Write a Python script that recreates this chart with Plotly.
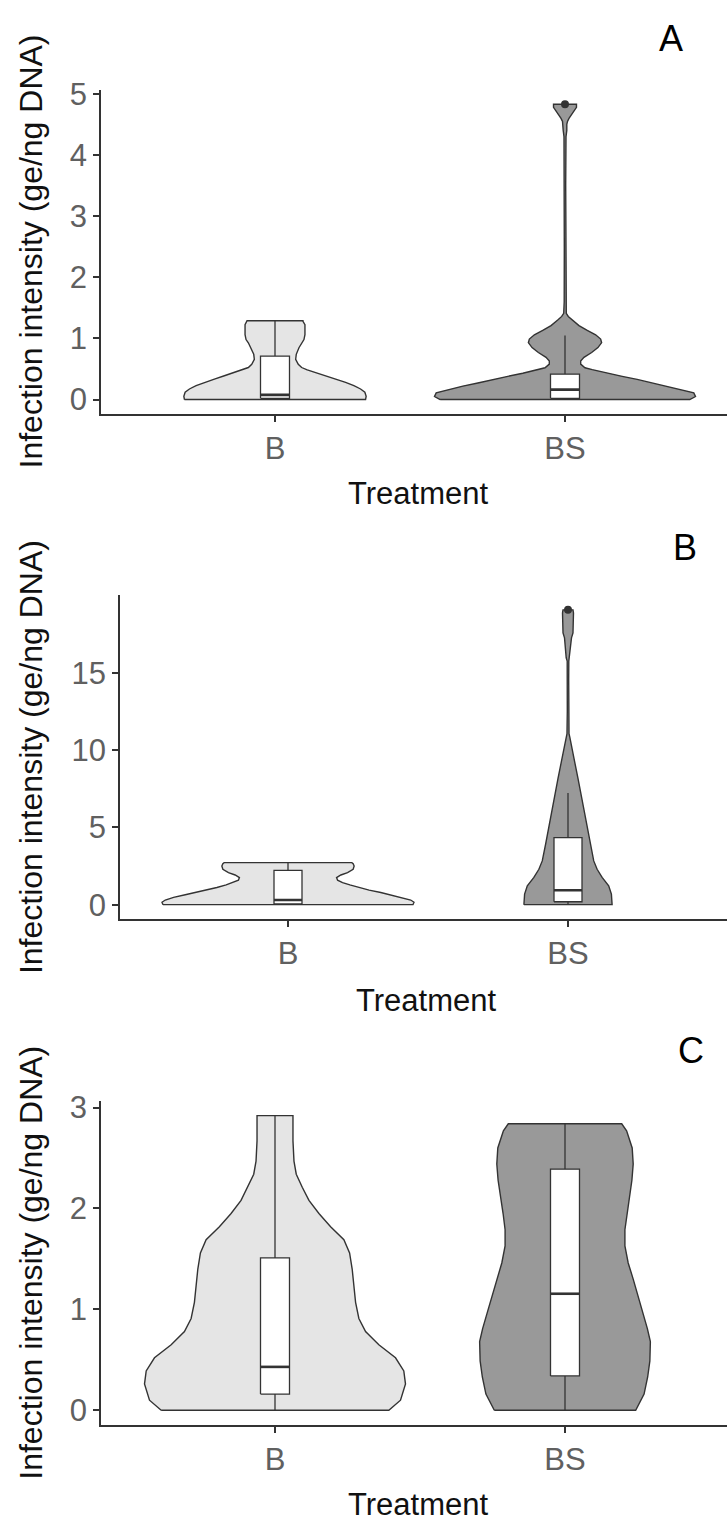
import plotly.graph_objects as go

W, H = 727, 1522

# ---------------- data ----------------
categories = ["B", "BS"]
panel_labels = ["A", "B", "C"]
y_title = "Infection intensity (ge/ng DNA)"
x_title = "Treatment"

# Panel A -------------------------------------------------------------
a_yticks = [0, 1, 2, 3, 4, 5]
a_b_y = [0, 0.055, 0.12, 0.173, 0.227, 0.281, 0.335, 0.389, 0.443, 0.486, 0.524,
         0.578, 0.659, 0.740, 0.848, 0.928, 0.982, 1.063, 1.225, 1.279, 1.29]
a_b_density = [90.7, 91.3, 90, 85.7, 79, 70.7, 60.7, 50.7, 40.7, 32.3, 26.7,
               23.3, 20.7, 21.3, 24, 26.7, 29, 30, 30, 28, 28]
a_bs_y = [0, 0.05, 0.11, 0.16, 0.22, 0.27, 0.33, 0.38, 0.43, 0.49, 0.52, 0.58, 0.63,
          0.69, 0.77, 0.85, 0.93, 0.99, 1.06, 1.13, 1.21, 1.30, 1.36, 1.41, 1.6, 2.5,
          3.5, 4.3, 4.4, 4.5, 4.55, 4.6, 4.7, 4.78, 4.83]
a_bs_density = [125, 130.7, 129, 117.3, 102.3, 87.3, 72.3, 57.3, 42.3, 27.3, 20, 15.7,
                15.7, 19, 26.7, 33, 36.7, 35.7, 30.7, 22.3, 14, 7.3, 3.3, 1.3, 0.8, 0.7,
                0.7, 1.0, 1.8, 1.8, 2.5, 4, 8, 11.5, 11.5]
a_q1 = [0.02, 0.02]
a_median = [0.076, 0.162]
a_q3 = [0.71, 0.416]
a_lower = [0, 0]
a_upper = [1.29, 1.047]
a_out_x = ["BS"]
a_out_y = [4.83]

# Panel B -------------------------------------------------------------
b_yticks = [0, 5, 10, 15]
b_b_y = [0, 0.16, 0.30, 0.47, 0.64, 0.79, 0.94, 1.11, 1.28, 1.43, 1.58, 1.75, 1.92,
         2.07, 2.29, 2.50, 2.65, 2.72]
b_b_density = [125.3, 126.3, 123, 114.7, 103, 93, 81.3, 71.3, 62, 54.7, 49.7, 48.7, 53,
               59.7, 65.3, 66.3, 65.3, 64]
b_bs_y = [0, 0.68, 1.22, 1.76, 2.29, 2.83, 3.89, 4.96, 6.03, 7.10, 8.17, 9.23, 10.30,
          10.83, 11.05, 12.5, 14.5, 15.75, 15.96, 16.71, 17.25, 17.57, 18.21, 18.85, 19.06]
b_bs_density = [44.2, 43.5, 40.8, 34.2, 29.2, 25.8, 22.5, 19.5, 16.2, 13.3, 10, 6.7, 3.2,
                1.8, 1.0, 0.7, 0.7, 0.8, 1.8, 2.8, 3.5, 5, 5.5, 5.5, 5]
b_q1 = [0.05, 0.19]
b_median = [0.3, 0.93]
b_q3 = [2.22, 4.34]
b_lower = [0, 0]
b_upper = [2.72, 7.22]
b_out_x = ["BS"]
b_out_y = [19.06]

# Panel C -------------------------------------------------------------
c_yticks = [0, 1, 2, 3]
c_b_y = [0, 0.10, 0.26, 0.39, 0.52, 0.65, 0.78, 0.91, 1.07, 1.24, 1.40, 1.56, 1.69,
         1.82, 1.95, 2.08, 2.21, 2.34, 2.47, 2.67, 2.86, 2.92]
c_b_density = [114, 125.7, 130.7, 129, 120.7, 104, 90.7, 84, 80.7, 79, 77.3, 74.7, 69,
               55.7, 44, 34, 27.3, 21.3, 19, 18, 18, 18]
c_bs_y = [0, 0.16, 0.33, 0.49, 0.68, 0.81, 0.98, 1.14, 1.30, 1.46, 1.63, 1.79, 1.95,
          2.12, 2.28, 2.44, 2.60, 2.77, 2.84]
c_bs_density = [70.8, 79.2, 82.8, 85, 85.5, 82.5, 77.5, 73, 68.3, 63.3, 60, 60, 62,
                 64.7, 67, 68.3, 67.3, 61.7, 56.8]
c_q1 = [0.16, 0.34]
c_median = [0.43, 1.155]
c_q3 = [1.51, 2.39]
c_lower = [0, 0]
c_upper = [2.92, 2.84]
c_out_x = []
c_out_y = []

# ---------------- styling / layout ----------------
FONT = "Liberation Sans, Arial, sans-serif"
LINE = "#333333"
FILLS = {"B": "#E5E5E5", "BS": "#999999"}
TICK_COLOR = "#606060"
VIOLIN_HALF = 0.45   # ggplot width 0.9
BOX_W = 0.1

panels = [
    dict(left=101, top=77.4, bottom=405.5, yrange=[-0.24, 5.07], step=290,
         yticks=a_yticks,
         violins={"B": (a_b_y, a_b_density), "BS": (a_bs_y, a_bs_density)},
         box=(a_q1, a_median, a_q3, a_lower, a_upper), out=(a_out_x, a_out_y),
         title_y=241, xt=(418, 486), lab=(671, 26)),
    dict(left=120, top=588.5, bottom=916, yrange=[-0.95, 20.0], step=280,
         yticks=b_yticks,
         violins={"B": (b_b_y, b_b_density), "BS": (b_bs_y, b_bs_density)},
         box=(b_q1, b_median, b_q3, b_lower, b_upper), out=(b_out_x, b_out_y),
         title_y=752, xt=(426, 998), lab=(685, 540)),
    dict(left=101, top=1099.5, bottom=1427, yrange=[-0.146, 3.066], step=290,
         yticks=c_yticks,
         violins={"B": (c_b_y, c_b_density), "BS": (c_bs_y, c_bs_density)},
         box=(c_q1, c_median, c_q3, c_lower, c_upper), out=(c_out_x, c_out_y),
         title_y=1263, xt=(418, 1507), lab=(691, 1049)),
]

pos = {c: i + 1 for i, c in enumerate(categories)}

fig = go.Figure()
annotations = []
layout_axes = {}


def add(tr, xa, ya):
    tr.update(xaxis=xa, yaxis=ya, showlegend=False, hoverinfo="skip")
    fig.add_trace(tr)


for i, p in enumerate(panels):
    n = "" if i == 0 else str(i + 1)
    xa, ya = "x" + n, "y" + n
    # violins
    dmax = max(max(d) for _, d in p["violins"].values())
    for cat in categories:
        ys, ds = p["violins"][cat]
        c = pos[cat]
        hw = [VIOLIN_HALF * d / dmax for d in ds]
        xs = [c - h for h in hw] + [c + h for h in reversed(hw)] + [c - hw[0]]
        yy = list(ys) + list(reversed(ys)) + [ys[0]]
        add(go.Scatter(x=xs, y=yy, mode="lines", fill="toself", fillcolor=FILLS[cat],
                       line=dict(color=LINE, width=1.4)), xa, ya)
    # boxplots
    q1, med, q3, lo, up = p["box"]
    for j, cat in enumerate(categories):
        c = pos[cat]
        add(go.Scatter(x=[c, c, None, c, c], y=[q3[j], up[j], None, lo[j], q1[j]],
                       mode="lines", line=dict(color=LINE, width=1.3)), xa, ya)
        bx = [c - BOX_W / 2, c + BOX_W / 2, c + BOX_W / 2, c - BOX_W / 2, c - BOX_W / 2]
        by = [q1[j], q1[j], q3[j], q3[j], q1[j]]
        add(go.Scatter(x=bx, y=by, mode="lines", fill="toself", fillcolor="white",
                       line=dict(color=LINE, width=1.3)), xa, ya)
        add(go.Scatter(x=[c - BOX_W / 2, c + BOX_W / 2], y=[med[j], med[j]],
                       mode="lines", line=dict(color=LINE, width=2.6)), xa, ya)
    ox, oy = p["out"]
    if ox:
        add(go.Scatter(x=[pos[c] for c in ox], y=oy, mode="markers",
                       marker=dict(color=LINE, size=8)), xa, ya)
    xmax = 0.4 + (W - p["left"]) / p["step"]
    common = dict(showline=True, linecolor=LINE, linewidth=1.6, ticks="outside",
                  ticklen=6, tickwidth=1.5, tickcolor=LINE, showgrid=False,
                  zeroline=False, fixedrange=True,
                  tickfont=dict(family=FONT, size=31, color=TICK_COLOR))
    layout_axes["xaxis" + n] = dict(common, domain=[p["left"] / W, 1], range=[0.4, xmax],
                                    tickvals=[1, 2], ticktext=categories, anchor=ya)
    layout_axes["yaxis" + n] = dict(common, domain=[1 - p["bottom"] / H, 1 - p["top"] / H],
                                    range=p["yrange"], tickvals=p["yticks"],
                                    ticktext=[str(t) for t in p["yticks"]], anchor=xa)
    annotations.append(dict(text=y_title, x=31 / W, y=1 - p["title_y"] / H,
                            xref="paper", yref="paper", textangle=-90, showarrow=False,
                            xanchor="center", yanchor="middle",
                            font=dict(family=FONT, size=32, color="#111111")))
    annotations.append(dict(text=x_title, x=p["xt"][0] / W, y=1 - p["xt"][1] / H,
                            xref="paper", yref="paper", showarrow=False,
                            xanchor="center", yanchor="middle",
                            font=dict(family=FONT, size=31, color="#111111")))
    annotations.append(dict(text=panel_labels[i], x=p["lab"][0] / W, y=1 - p["lab"][1] / H,
                            xref="paper", yref="paper", showarrow=False,
                            xanchor="center", yanchor="middle",
                            font=dict(family=FONT, size=36, color="black")))

fig.update_layout(width=W, height=H, margin=dict(l=0, r=0, t=0, b=0),
                  paper_bgcolor="white", plot_bgcolor="white",
                  annotations=annotations, showlegend=False, **layout_axes)

fig.write_html("out.html")
